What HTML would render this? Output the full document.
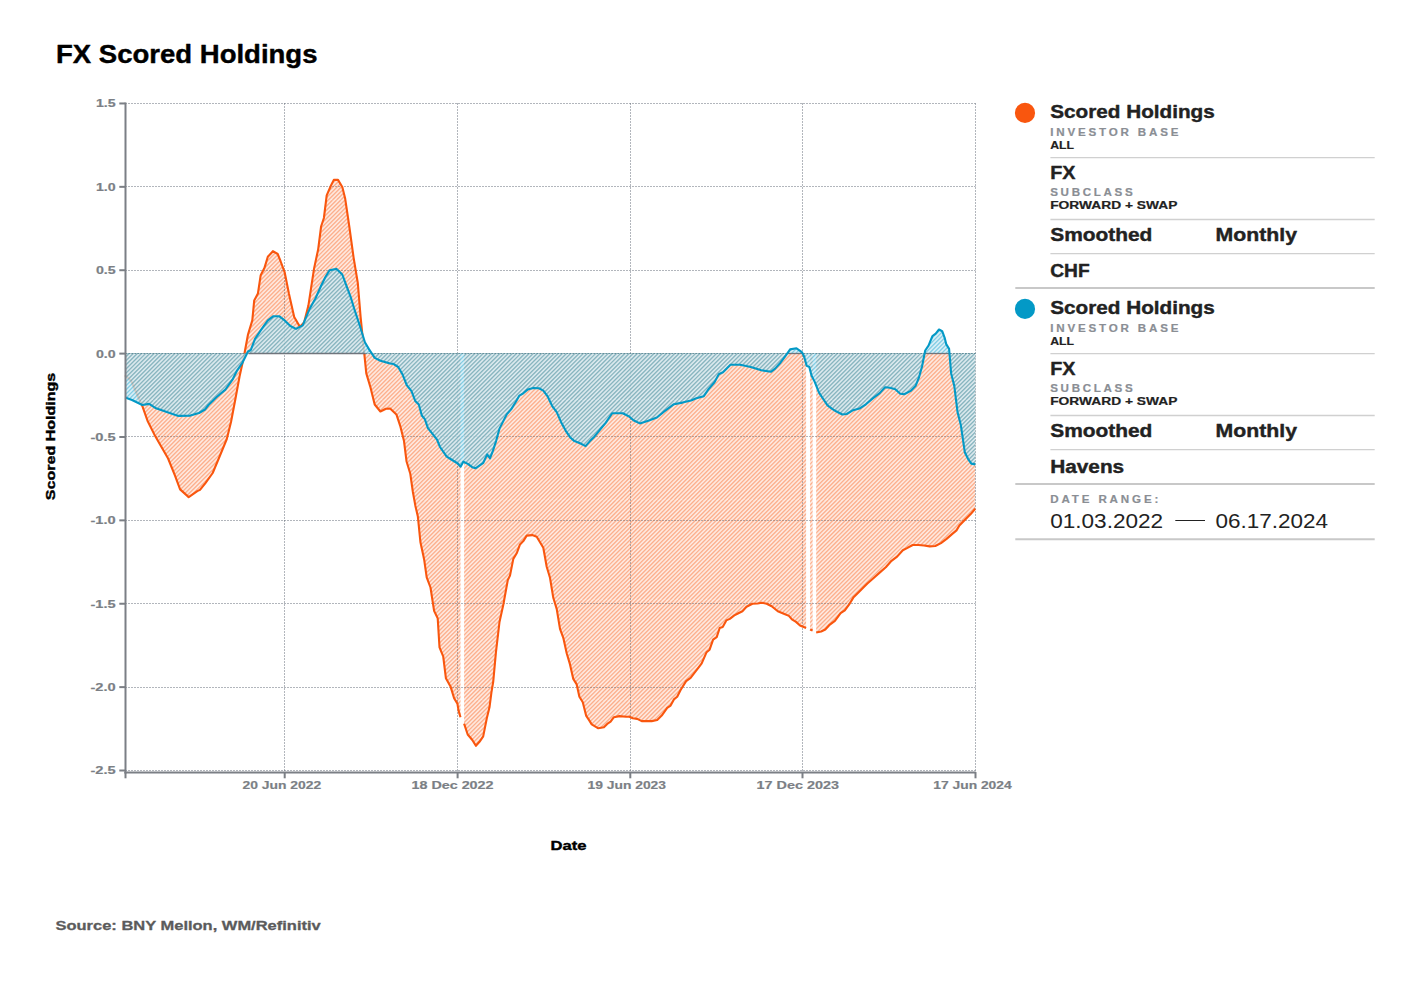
<!DOCTYPE html><html><head><meta charset="utf-8"><style>html,body{margin:0;padding:0;background:#fff;width:1406px;height:990px;overflow:hidden;}svg{display:block;font-family:"Liberation Sans",sans-serif;}</style></head><body>
<svg width="1406" height="990" viewBox="0 0 1406 990">
<defs>
<pattern id="ho" patternUnits="userSpaceOnUse" width="100" height="100" patternTransform="translate(-0.80,0)"><path d="M-100.000,100 L0.000,0 M-95.833,100 L4.167,0 M-91.667,100 L8.333,0 M-87.500,100 L12.500,0 M-83.333,100 L16.667,0 M-79.167,100 L20.833,0 M-75.000,100 L25.000,0 M-70.833,100 L29.167,0 M-66.667,100 L33.333,0 M-62.500,100 L37.500,0 M-58.333,100 L41.667,0 M-54.167,100 L45.833,0 M-50.000,100 L50.000,0 M-45.833,100 L54.167,0 M-41.667,100 L58.333,0 M-37.500,100 L62.500,0 M-33.333,100 L66.667,0 M-29.167,100 L70.833,0 M-25.000,100 L75.000,0 M-20.833,100 L79.167,0 M-16.667,100 L83.333,0 M-12.500,100 L87.500,0 M-8.333,100 L91.667,0 M-4.167,100 L95.833,0 M0.000,100 L100.000,0 M4.167,100 L104.167,0 M8.333,100 L108.333,0 M12.500,100 L112.500,0 M16.667,100 L116.667,0 M20.833,100 L120.833,0 M25.000,100 L125.000,0 M29.167,100 L129.167,0 M33.333,100 L133.333,0 M37.500,100 L137.500,0 M41.667,100 L141.667,0 M45.833,100 L145.833,0 M50.000,100 L150.000,0 M54.167,100 L154.167,0 M58.333,100 L158.333,0 M62.500,100 L162.500,0 M66.667,100 L166.667,0 M70.833,100 L170.833,0 M75.000,100 L175.000,0 M79.167,100 L179.167,0 M83.333,100 L183.333,0 M87.500,100 L187.500,0 M91.667,100 L191.667,0 M95.833,100 L195.833,0 M100.000,100 L200.000,0" stroke="#f9560e" stroke-opacity="0.220" stroke-width="1.20" fill="none"/></pattern>
<pattern id="ho1" patternUnits="userSpaceOnUse" width="100" height="100" patternTransform="translate(-0.80,0)"><path d="M-100.000,100 L0.000,0 M-95.833,100 L4.167,0 M-91.667,100 L8.333,0 M-87.500,100 L12.500,0 M-83.333,100 L16.667,0 M-79.167,100 L20.833,0 M-75.000,100 L25.000,0 M-70.833,100 L29.167,0 M-66.667,100 L33.333,0 M-62.500,100 L37.500,0 M-58.333,100 L41.667,0 M-54.167,100 L45.833,0 M-50.000,100 L50.000,0 M-45.833,100 L54.167,0 M-41.667,100 L58.333,0 M-37.500,100 L62.500,0 M-33.333,100 L66.667,0 M-29.167,100 L70.833,0 M-25.000,100 L75.000,0 M-20.833,100 L79.167,0 M-16.667,100 L83.333,0 M-12.500,100 L87.500,0 M-8.333,100 L91.667,0 M-4.167,100 L95.833,0 M0.000,100 L100.000,0 M4.167,100 L104.167,0 M8.333,100 L108.333,0 M12.500,100 L112.500,0 M16.667,100 L116.667,0 M20.833,100 L120.833,0 M25.000,100 L125.000,0 M29.167,100 L129.167,0 M33.333,100 L133.333,0 M37.500,100 L137.500,0 M41.667,100 L141.667,0 M45.833,100 L145.833,0 M50.000,100 L150.000,0 M54.167,100 L154.167,0 M58.333,100 L158.333,0 M62.500,100 L162.500,0 M66.667,100 L166.667,0 M70.833,100 L170.833,0 M75.000,100 L175.000,0 M79.167,100 L179.167,0 M83.333,100 L183.333,0 M87.500,100 L187.500,0 M91.667,100 L191.667,0 M95.833,100 L195.833,0 M100.000,100 L200.000,0" stroke="#f9560e" stroke-opacity="0.300" stroke-width="1.20" fill="none"/></pattern>
<pattern id="hb" patternUnits="userSpaceOnUse" width="100" height="100" patternTransform="translate(-0.80,0)"><path d="M-100.000,100 L0.000,0 M-95.833,100 L4.167,0 M-91.667,100 L8.333,0 M-87.500,100 L12.500,0 M-83.333,100 L16.667,0 M-79.167,100 L20.833,0 M-75.000,100 L25.000,0 M-70.833,100 L29.167,0 M-66.667,100 L33.333,0 M-62.500,100 L37.500,0 M-58.333,100 L41.667,0 M-54.167,100 L45.833,0 M-50.000,100 L50.000,0 M-45.833,100 L54.167,0 M-41.667,100 L58.333,0 M-37.500,100 L62.500,0 M-33.333,100 L66.667,0 M-29.167,100 L70.833,0 M-25.000,100 L75.000,0 M-20.833,100 L79.167,0 M-16.667,100 L83.333,0 M-12.500,100 L87.500,0 M-8.333,100 L91.667,0 M-4.167,100 L95.833,0 M0.000,100 L100.000,0 M4.167,100 L104.167,0 M8.333,100 L108.333,0 M12.500,100 L112.500,0 M16.667,100 L116.667,0 M20.833,100 L120.833,0 M25.000,100 L125.000,0 M29.167,100 L129.167,0 M33.333,100 L133.333,0 M37.500,100 L137.500,0 M41.667,100 L141.667,0 M45.833,100 L145.833,0 M50.000,100 L150.000,0 M54.167,100 L154.167,0 M58.333,100 L158.333,0 M62.500,100 L162.500,0 M66.667,100 L166.667,0 M70.833,100 L170.833,0 M75.000,100 L175.000,0 M79.167,100 L179.167,0 M83.333,100 L183.333,0 M87.500,100 L187.500,0 M91.667,100 L191.667,0 M95.833,100 L195.833,0 M100.000,100 L200.000,0" stroke="#0399c6" stroke-opacity="0.470" stroke-width="1.20" fill="none"/></pattern>
</defs>
<rect width="1406" height="990" fill="#fff"/>
<text x="56.0" y="63.1" font-size="25.00" font-weight="bold" fill="#000" text-anchor="start" textLength="261.5" lengthAdjust="spacingAndGlyphs" stroke="#000" stroke-width="0.40" stroke-linejoin="round" >FX Scored Holdings</text>
<path d="M125.2,353.5 L125.2,375.2 L131.2,381.2 L137.2,395.0 L142.3,406.0 L147.5,420.7 L154.3,434.4 L161.2,446.5 L168.1,458.5 L175.0,475.7 L180.1,489.4 L188.7,497.1 L197.3,491.1 L200.0,489.9 L205.6,482.8 L212.7,473.0 L219.8,456.0 L226.8,439.0 L231.0,422.0 L235.3,399.5 L239.5,376.9 L243.8,357.0 L248.0,334.5 L252.3,320.4 L254.2,300.6 L257.9,293.6 L260.7,275.2 L264.4,268.1 L267.8,256.8 L272.9,251.2 L277.7,254.0 L280.5,261.0 L284.7,272.4 L289.0,294.0 L294.2,316.9 L299.9,326.8 L304.1,322.5 L308.4,305.6 L314.0,268.9 L318.2,249.1 L321.1,226.5 L323.9,218.0 L326.7,195.4 L331.0,185.5 L333.8,179.9 L338.0,179.9 L342.3,187.0 L345.1,198.2 L349.3,226.5 L353.6,257.6 L357.8,283.0 L360.6,316.9 L364.0,350.8 L366.3,373.4 L370.5,387.5 L374.7,404.5 L380.4,411.5 L386.0,408.7 L390.1,408.6 L396.4,414.4 L400.2,425.8 L404.0,441.0 L406.5,461.2 L410.3,473.8 L412.8,491.5 L415.3,505.4 L417.9,516.8 L420.4,542.0 L424.2,559.8 L426.7,577.4 L430.5,587.5 L434.1,610.9 L437.7,618.2 L439.5,647.3 L443.2,656.4 L445.9,678.2 L450.5,686.4 L454.1,698.2 L457.4,703.6 L458.6,710.9 L460.5,717.3 L460.5,353.5 Z" fill="#f9560e" fill-opacity="0.115" stroke="none"/>
<path d="M464.1,353.5 L464.1,723.6 L467.7,734.5 L472.3,740.0 L475.9,745.8 L479.5,741.8 L483.2,736.4 L486.8,718.2 L489.5,707.3 L491.4,692.7 L493.2,681.8 L495.9,652.7 L499.5,622.0 L503.3,604.7 L507.8,580.0 L510.0,575.6 L513.3,558.9 L516.7,553.3 L520.0,544.4 L523.3,541.1 L526.7,535.6 L532.2,535.1 L536.7,536.7 L540.0,542.2 L543.3,547.8 L546.7,566.7 L550.0,577.8 L553.3,597.8 L556.7,608.9 L560.0,628.9 L563.3,637.8 L566.7,653.3 L570.0,664.4 L573.3,678.9 L576.7,684.4 L579.4,696.7 L582.8,702.2 L586.1,715.6 L589.4,720.6 L591.7,724.4 L598.3,728.3 L603.9,727.2 L607.2,723.9 L610.6,721.7 L613.9,717.2 L619.4,716.1 L626.1,716.7 L629.4,716.7 L632.8,718.3 L637.2,718.9 L641.7,721.1 L651.7,721.1 L657.2,720.0 L661.7,715.6 L667.2,707.8 L670.6,705.6 L673.9,699.4 L677.2,696.7 L680.6,690.0 L686.1,681.1 L690.6,677.8 L695.0,672.2 L698.3,667.8 L701.7,663.3 L706.6,652.2 L709.6,649.7 L713.1,639.6 L716.7,637.1 L719.7,628.0 L722.7,627.0 L726.3,620.4 L729.8,618.9 L734.3,615.4 L738.4,613.3 L742.4,611.3 L746.5,606.8 L752.5,603.7 L757.6,603.5 L761.6,602.7 L766.7,603.7 L771.7,606.3 L777.8,611.3 L783.8,613.8 L788.9,615.9 L791.9,619.4 L796.0,621.9 L800.0,625.5 L806.1,628.0 L806.1,353.5 Z" fill="#f9560e" fill-opacity="0.115" stroke="none"/>
<path d="M810.1,353.5 L810.1,629.5 L812.6,630.5 L812.6,353.5 Z" fill="#f9560e" fill-opacity="0.115" stroke="none"/>
<path d="M816.2,353.5 L816.2,632.5 L821.2,631.5 L825.3,629.5 L829.2,625.2 L834.9,620.9 L840.6,613.2 L844.8,610.3 L849.0,604.7 L853.3,597.6 L858.9,591.9 L864.6,586.3 L867.4,583.5 L873.1,578.5 L880.2,572.1 L885.8,567.2 L891.5,560.8 L897.1,556.6 L902.8,550.2 L907.0,548.1 L912.7,545.0 L918.4,545.0 L924.0,545.5 L929.7,546.4 L935.3,546.0 L941.0,543.1 L946.6,538.9 L952.3,533.9 L956.5,530.4 L959.4,525.5 L965.0,519.8 L970.7,514.1 L975.2,508.8 L975.2,353.5 Z" fill="#f9560e" fill-opacity="0.115" stroke="none"/>
<path d="M125.2,353.5 L125.2,375.2 L131.2,381.2 L137.2,395.0 L142.3,406.0 L147.5,420.7 L154.3,434.4 L161.2,446.5 L168.1,458.5 L175.0,475.7 L180.1,489.4 L188.7,497.1 L197.3,491.1 L200.0,489.9 L205.6,482.8 L212.7,473.0 L219.8,456.0 L226.8,439.0 L231.0,422.0 L235.3,399.5 L239.5,376.9 L243.8,357.0 L248.0,334.5 L252.3,320.4 L254.2,300.6 L257.9,293.6 L260.7,275.2 L264.4,268.1 L267.8,256.8 L272.9,251.2 L277.7,254.0 L280.5,261.0 L284.7,272.4 L289.0,294.0 L294.2,316.9 L299.9,326.8 L304.1,322.5 L308.4,305.6 L314.0,268.9 L318.2,249.1 L321.1,226.5 L323.9,218.0 L326.7,195.4 L331.0,185.5 L333.8,179.9 L338.0,179.9 L342.3,187.0 L345.1,198.2 L349.3,226.5 L353.6,257.6 L357.8,283.0 L360.6,316.9 L364.0,350.8 L366.3,373.4 L370.5,387.5 L374.7,404.5 L380.4,411.5 L386.0,408.7 L390.1,408.6 L396.4,414.4 L400.2,425.8 L404.0,441.0 L406.5,461.2 L410.3,473.8 L412.8,491.5 L415.3,505.4 L417.9,516.8 L420.4,542.0 L424.2,559.8 L426.7,577.4 L430.5,587.5 L434.1,610.9 L437.7,618.2 L439.5,647.3 L443.2,656.4 L445.9,678.2 L450.5,686.4 L454.1,698.2 L457.4,703.6 L458.6,710.9 L460.5,717.3 L460.5,353.5 Z" fill="url(#ho1)" stroke="none"/>
<path d="M464.1,353.5 L464.1,723.6 L467.7,734.5 L472.3,740.0 L475.9,745.8 L479.5,741.8 L483.2,736.4 L486.8,718.2 L489.5,707.3 L491.4,692.7 L493.2,681.8 L495.9,652.7 L499.5,622.0 L503.3,604.7 L507.8,580.0 L510.0,575.6 L513.3,558.9 L516.7,553.3 L520.0,544.4 L523.3,541.1 L526.7,535.6 L532.2,535.1 L536.7,536.7 L540.0,542.2 L543.3,547.8 L546.7,566.7 L550.0,577.8 L553.3,597.8 L556.7,608.9 L560.0,628.9 L563.3,637.8 L566.7,653.3 L570.0,664.4 L573.3,678.9 L576.7,684.4 L579.4,696.7 L582.8,702.2 L586.1,715.6 L589.4,720.6 L591.7,724.4 L598.3,728.3 L603.9,727.2 L607.2,723.9 L610.6,721.7 L613.9,717.2 L619.4,716.1 L626.1,716.7 L629.4,716.7 L632.8,718.3 L637.2,718.9 L641.7,721.1 L651.7,721.1 L657.2,720.0 L661.7,715.6 L667.2,707.8 L670.6,705.6 L673.9,699.4 L677.2,696.7 L680.6,690.0 L686.1,681.1 L690.6,677.8 L695.0,672.2 L698.3,667.8 L701.7,663.3 L706.6,652.2 L709.6,649.7 L713.1,639.6 L716.7,637.1 L719.7,628.0 L722.7,627.0 L726.3,620.4 L729.8,618.9 L734.3,615.4 L738.4,613.3 L742.4,611.3 L746.5,606.8 L752.5,603.7 L757.6,603.5 L761.6,602.7 L766.7,603.7 L771.7,606.3 L777.8,611.3 L783.8,613.8 L788.9,615.9 L791.9,619.4 L796.0,621.9 L800.0,625.5 L806.1,628.0 L806.1,353.5 Z" fill="url(#ho1)" stroke="none"/>
<path d="M810.1,353.5 L810.1,629.5 L812.6,630.5 L812.6,353.5 Z" fill="url(#ho1)" stroke="none"/>
<path d="M816.2,353.5 L816.2,632.5 L821.2,631.5 L825.3,629.5 L829.2,625.2 L834.9,620.9 L840.6,613.2 L844.8,610.3 L849.0,604.7 L853.3,597.6 L858.9,591.9 L864.6,586.3 L867.4,583.5 L873.1,578.5 L880.2,572.1 L885.8,567.2 L891.5,560.8 L897.1,556.6 L902.8,550.2 L907.0,548.1 L912.7,545.0 L918.4,545.0 L924.0,545.5 L929.7,546.4 L935.3,546.0 L941.0,543.1 L946.6,538.9 L952.3,533.9 L956.5,530.4 L959.4,525.5 L965.0,519.8 L970.7,514.1 L975.2,508.8 L975.2,353.5 Z" fill="url(#ho1)" stroke="none"/>
<line x1="125" y1="103.50" x2="975.5" y2="103.50" stroke="#5c6370" stroke-opacity="0.47" stroke-width="1" stroke-dasharray="2 1"/>
<line x1="125" y1="186.50" x2="975.5" y2="186.50" stroke="#5c6370" stroke-opacity="0.47" stroke-width="1" stroke-dasharray="2 1"/>
<line x1="125" y1="270.50" x2="975.5" y2="270.50" stroke="#5c6370" stroke-opacity="0.47" stroke-width="1" stroke-dasharray="2 1"/>
<line x1="125" y1="353.50" x2="975.5" y2="353.50" stroke="#5c6370" stroke-opacity="0.47" stroke-width="1" stroke-dasharray="2 1"/>
<line x1="125" y1="436.50" x2="975.5" y2="436.50" stroke="#5c6370" stroke-opacity="0.47" stroke-width="1" stroke-dasharray="2 1"/>
<line x1="125" y1="520.50" x2="975.5" y2="520.50" stroke="#5c6370" stroke-opacity="0.47" stroke-width="1" stroke-dasharray="2 1"/>
<line x1="125" y1="603.50" x2="975.5" y2="603.50" stroke="#5c6370" stroke-opacity="0.47" stroke-width="1" stroke-dasharray="2 1"/>
<line x1="125" y1="687.50" x2="975.5" y2="687.50" stroke="#5c6370" stroke-opacity="0.47" stroke-width="1" stroke-dasharray="2 1"/>
<line x1="125" y1="770.50" x2="975.5" y2="770.50" stroke="#5c6370" stroke-opacity="0.47" stroke-width="1" stroke-dasharray="2 1"/>
<line x1="284.50" y1="103" x2="284.50" y2="771" stroke="#5c6370" stroke-opacity="0.47" stroke-width="1" stroke-dasharray="2 1"/>
<line x1="457.50" y1="103" x2="457.50" y2="771" stroke="#5c6370" stroke-opacity="0.47" stroke-width="1" stroke-dasharray="2 1"/>
<line x1="630.50" y1="103" x2="630.50" y2="771" stroke="#5c6370" stroke-opacity="0.47" stroke-width="1" stroke-dasharray="2 1"/>
<line x1="802.50" y1="103" x2="802.50" y2="771" stroke="#5c6370" stroke-opacity="0.47" stroke-width="1" stroke-dasharray="2 1"/>
<line x1="975.50" y1="103" x2="975.50" y2="771" stroke="#5c6370" stroke-opacity="0.47" stroke-width="1" stroke-dasharray="2 1"/>
<path d="M125.2,375.2 L131.2,381.2 L137.2,395.0 L142.3,406.0 L147.5,420.7 L154.3,434.4 L161.2,446.5 L168.1,458.5 L175.0,475.7 L180.1,489.4 L188.7,497.1 L197.3,491.1 L200.0,489.9 L205.6,482.8 L212.7,473.0 L219.8,456.0 L226.8,439.0 L231.0,422.0 L235.3,399.5 L239.5,376.9 L243.8,357.0 L248.0,334.5 L252.3,320.4 L254.2,300.6 L257.9,293.6 L260.7,275.2 L264.4,268.1 L267.8,256.8 L272.9,251.2 L277.7,254.0 L280.5,261.0 L284.7,272.4 L289.0,294.0 L294.2,316.9 L299.9,326.8 L304.1,322.5 L308.4,305.6 L314.0,268.9 L318.2,249.1 L321.1,226.5 L323.9,218.0 L326.7,195.4 L331.0,185.5 L333.8,179.9 L338.0,179.9 L342.3,187.0 L345.1,198.2 L349.3,226.5 L353.6,257.6 L357.8,283.0 L360.6,316.9 L364.0,350.8 L366.3,373.4 L370.5,387.5 L374.7,404.5 L380.4,411.5 L386.0,408.7 L390.1,408.6 L396.4,414.4 L400.2,425.8 L404.0,441.0 L406.5,461.2 L410.3,473.8 L412.8,491.5 L415.3,505.4 L417.9,516.8 L420.4,542.0 L424.2,559.8 L426.7,577.4 L430.5,587.5 L434.1,610.9 L437.7,618.2 L439.5,647.3 L443.2,656.4 L445.9,678.2 L450.5,686.4 L454.1,698.2 L457.4,703.6 L458.6,710.9 L460.5,717.3" fill="none" stroke="#f9560e" stroke-width="2.10" stroke-linejoin="round" stroke-linecap="butt"/>
<path d="M464.1,723.6 L467.7,734.5 L472.3,740.0 L475.9,745.8 L479.5,741.8 L483.2,736.4 L486.8,718.2 L489.5,707.3 L491.4,692.7 L493.2,681.8 L495.9,652.7 L499.5,622.0 L503.3,604.7 L507.8,580.0 L510.0,575.6 L513.3,558.9 L516.7,553.3 L520.0,544.4 L523.3,541.1 L526.7,535.6 L532.2,535.1 L536.7,536.7 L540.0,542.2 L543.3,547.8 L546.7,566.7 L550.0,577.8 L553.3,597.8 L556.7,608.9 L560.0,628.9 L563.3,637.8 L566.7,653.3 L570.0,664.4 L573.3,678.9 L576.7,684.4 L579.4,696.7 L582.8,702.2 L586.1,715.6 L589.4,720.6 L591.7,724.4 L598.3,728.3 L603.9,727.2 L607.2,723.9 L610.6,721.7 L613.9,717.2 L619.4,716.1 L626.1,716.7 L629.4,716.7 L632.8,718.3 L637.2,718.9 L641.7,721.1 L651.7,721.1 L657.2,720.0 L661.7,715.6 L667.2,707.8 L670.6,705.6 L673.9,699.4 L677.2,696.7 L680.6,690.0 L686.1,681.1 L690.6,677.8 L695.0,672.2 L698.3,667.8 L701.7,663.3 L706.6,652.2 L709.6,649.7 L713.1,639.6 L716.7,637.1 L719.7,628.0 L722.7,627.0 L726.3,620.4 L729.8,618.9 L734.3,615.4 L738.4,613.3 L742.4,611.3 L746.5,606.8 L752.5,603.7 L757.6,603.5 L761.6,602.7 L766.7,603.7 L771.7,606.3 L777.8,611.3 L783.8,613.8 L788.9,615.9 L791.9,619.4 L796.0,621.9 L800.0,625.5 L806.1,628.0" fill="none" stroke="#f9560e" stroke-width="2.10" stroke-linejoin="round" stroke-linecap="butt"/>
<path d="M810.1,629.5 L812.6,630.5" fill="none" stroke="#f9560e" stroke-width="2.10" stroke-linejoin="round" stroke-linecap="butt"/>
<path d="M816.2,632.5 L821.2,631.5 L825.3,629.5 L829.2,625.2 L834.9,620.9 L840.6,613.2 L844.8,610.3 L849.0,604.7 L853.3,597.6 L858.9,591.9 L864.6,586.3 L867.4,583.5 L873.1,578.5 L880.2,572.1 L885.8,567.2 L891.5,560.8 L897.1,556.6 L902.8,550.2 L907.0,548.1 L912.7,545.0 L918.4,545.0 L924.0,545.5 L929.7,546.4 L935.3,546.0 L941.0,543.1 L946.6,538.9 L952.3,533.9 L956.5,530.4 L959.4,525.5 L965.0,519.8 L970.7,514.1 L975.2,508.8" fill="none" stroke="#f9560e" stroke-width="2.10" stroke-linejoin="round" stroke-linecap="butt"/>
<path d="M125.2,353.5 L125.2,397.5 L132.0,400.0 L142.3,405.0 L149.2,403.9 L156.0,408.3 L164.6,411.3 L178.4,415.9 L190.4,415.6 L199.0,413.0 L205.0,409.5 L208.5,405.0 L217.0,396.7 L225.4,389.6 L232.5,379.7 L236.7,371.2 L242.4,362.8 L248.0,351.5 L250.8,350.0 L255.0,338.8 L260.7,330.3 L267.8,320.4 L273.4,316.2 L279.1,316.2 L284.7,320.4 L290.4,326.0 L296.0,328.9 L302.7,325.4 L309.8,308.4 L315.4,298.5 L321.1,285.8 L325.3,277.3 L329.5,270.3 L336.6,268.9 L342.3,274.5 L346.5,285.8 L350.7,297.1 L355.0,311.2 L360.6,328.2 L364.9,342.3 L369.1,349.4 L374.7,357.9 L380.4,360.7 L390.0,363.5 L393.3,363.9 L398.2,367.0 L402.4,374.2 L406.7,385.2 L411.5,391.2 L415.2,400.9 L418.8,404.5 L421.8,415.5 L424.8,419.1 L427.9,428.2 L433.3,434.8 L437.0,439.7 L440.0,447.0 L446.7,456.7 L450.5,459.0 L457.8,463.5 L460.6,466.7 L463.3,461.7 L467.8,463.9 L472.2,467.2 L475.6,468.3 L479.4,465.6 L483.3,462.8 L487.2,454.4 L490.0,458.3 L492.8,451.1 L496.1,441.1 L499.4,428.9 L503.3,421.1 L506.7,414.4 L511.1,409.4 L515.6,402.2 L519.4,395.6 L523.3,393.3 L527.8,389.4 L533.3,388.0 L538.9,388.3 L543.3,390.6 L547.8,396.7 L552.2,406.1 L556.7,412.2 L561.1,422.2 L565.6,430.6 L570.0,437.2 L574.4,441.1 L580.0,443.3 L585.6,446.1 L590.0,441.1 L594.4,436.7 L600.3,429.3 L605.7,422.9 L612.1,413.3 L622.7,413.3 L629.1,416.5 L633.4,420.2 L639.8,423.4 L648.3,420.7 L656.9,417.5 L663.3,412.2 L669.7,407.4 L674.0,404.2 L682.5,402.6 L691.0,400.5 L696.4,398.3 L703.8,396.2 L708.1,389.8 L714.5,382.3 L718.8,374.3 L723.0,372.2 L730.5,364.7 L740.1,364.7 L750.7,367.0 L761.3,370.2 L770.9,371.8 L775.2,368.6 L780.5,362.7 L785.9,355.3 L790.1,349.4 L796.5,348.3 L801.9,352.1 L804.0,356.3 L806.7,365.9 L809.3,367.0 L811.5,375.5 L814.7,381.9 L819.0,392.6 L823.2,399.0 L827.5,405.4 L831.8,408.6 L836.0,411.3 L842.4,414.5 L846.7,414.0 L853.1,410.2 L859.5,408.6 L865.9,404.3 L873.4,397.9 L879.8,393.1 L885.1,387.3 L889.7,387.7 L895.3,389.3 L900.2,393.7 L904.2,394.2 L910.7,390.9 L915.5,386.1 L918.8,378.0 L922.0,366.7 L925.2,350.5 L928.5,345.7 L932.5,336.0 L935.7,333.6 L939.0,329.5 L942.2,331.2 L944.6,337.6 L946.2,344.1 L949.1,348.9 L951.1,373.2 L954.3,386.1 L957.5,411.9 L960.8,424.9 L964.8,452.3 L968.0,458.8 L971.3,463.6 L975.3,464.4 L975.3,353.5 Z" fill="#d6eef6" fill-opacity="0.800" stroke="none"/>
<path d="M125.2,353.5 L125.2,375.2 L131.2,381.2 L137.2,395.0 L142.3,406.0 L147.5,420.7 L154.3,434.4 L161.2,446.5 L168.1,458.5 L175.0,475.7 L180.1,489.4 L188.7,497.1 L197.3,491.1 L200.0,489.9 L205.6,482.8 L212.7,473.0 L219.8,456.0 L226.8,439.0 L231.0,422.0 L235.3,399.5 L239.5,376.9 L243.8,357.0 L248.0,334.5 L252.3,320.4 L254.2,300.6 L257.9,293.6 L260.7,275.2 L264.4,268.1 L267.8,256.8 L272.9,251.2 L277.7,254.0 L280.5,261.0 L284.7,272.4 L289.0,294.0 L294.2,316.9 L299.9,326.8 L304.1,322.5 L308.4,305.6 L314.0,268.9 L318.2,249.1 L321.1,226.5 L323.9,218.0 L326.7,195.4 L331.0,185.5 L333.8,179.9 L338.0,179.9 L342.3,187.0 L345.1,198.2 L349.3,226.5 L353.6,257.6 L357.8,283.0 L360.6,316.9 L364.0,350.8 L366.3,373.4 L370.5,387.5 L374.7,404.5 L380.4,411.5 L386.0,408.7 L390.1,408.6 L396.4,414.4 L400.2,425.8 L404.0,441.0 L406.5,461.2 L410.3,473.8 L412.8,491.5 L415.3,505.4 L417.9,516.8 L420.4,542.0 L424.2,559.8 L426.7,577.4 L430.5,587.5 L434.1,610.9 L437.7,618.2 L439.5,647.3 L443.2,656.4 L445.9,678.2 L450.5,686.4 L454.1,698.2 L457.4,703.6 L458.6,710.9 L460.5,717.3 L460.5,353.5 Z" fill="url(#ho)" stroke="none"/>
<path d="M464.1,353.5 L464.1,723.6 L467.7,734.5 L472.3,740.0 L475.9,745.8 L479.5,741.8 L483.2,736.4 L486.8,718.2 L489.5,707.3 L491.4,692.7 L493.2,681.8 L495.9,652.7 L499.5,622.0 L503.3,604.7 L507.8,580.0 L510.0,575.6 L513.3,558.9 L516.7,553.3 L520.0,544.4 L523.3,541.1 L526.7,535.6 L532.2,535.1 L536.7,536.7 L540.0,542.2 L543.3,547.8 L546.7,566.7 L550.0,577.8 L553.3,597.8 L556.7,608.9 L560.0,628.9 L563.3,637.8 L566.7,653.3 L570.0,664.4 L573.3,678.9 L576.7,684.4 L579.4,696.7 L582.8,702.2 L586.1,715.6 L589.4,720.6 L591.7,724.4 L598.3,728.3 L603.9,727.2 L607.2,723.9 L610.6,721.7 L613.9,717.2 L619.4,716.1 L626.1,716.7 L629.4,716.7 L632.8,718.3 L637.2,718.9 L641.7,721.1 L651.7,721.1 L657.2,720.0 L661.7,715.6 L667.2,707.8 L670.6,705.6 L673.9,699.4 L677.2,696.7 L680.6,690.0 L686.1,681.1 L690.6,677.8 L695.0,672.2 L698.3,667.8 L701.7,663.3 L706.6,652.2 L709.6,649.7 L713.1,639.6 L716.7,637.1 L719.7,628.0 L722.7,627.0 L726.3,620.4 L729.8,618.9 L734.3,615.4 L738.4,613.3 L742.4,611.3 L746.5,606.8 L752.5,603.7 L757.6,603.5 L761.6,602.7 L766.7,603.7 L771.7,606.3 L777.8,611.3 L783.8,613.8 L788.9,615.9 L791.9,619.4 L796.0,621.9 L800.0,625.5 L806.1,628.0 L806.1,353.5 Z" fill="url(#ho)" stroke="none"/>
<path d="M810.1,353.5 L810.1,629.5 L812.6,630.5 L812.6,353.5 Z" fill="url(#ho)" stroke="none"/>
<path d="M816.2,353.5 L816.2,632.5 L821.2,631.5 L825.3,629.5 L829.2,625.2 L834.9,620.9 L840.6,613.2 L844.8,610.3 L849.0,604.7 L853.3,597.6 L858.9,591.9 L864.6,586.3 L867.4,583.5 L873.1,578.5 L880.2,572.1 L885.8,567.2 L891.5,560.8 L897.1,556.6 L902.8,550.2 L907.0,548.1 L912.7,545.0 L918.4,545.0 L924.0,545.5 L929.7,546.4 L935.3,546.0 L941.0,543.1 L946.6,538.9 L952.3,533.9 L956.5,530.4 L959.4,525.5 L965.0,519.8 L970.7,514.1 L975.2,508.8 L975.2,353.5 Z" fill="url(#ho)" stroke="none"/>
<path d="M125.2,353.5 L125.2,397.5 L132.0,400.0 L142.3,405.0 L149.2,403.9 L156.0,408.3 L164.6,411.3 L178.4,415.9 L190.4,415.6 L199.0,413.0 L205.0,409.5 L208.5,405.0 L217.0,396.7 L225.4,389.6 L232.5,379.7 L236.7,371.2 L242.4,362.8 L248.0,351.5 L250.8,350.0 L255.0,338.8 L260.7,330.3 L267.8,320.4 L273.4,316.2 L279.1,316.2 L284.7,320.4 L290.4,326.0 L296.0,328.9 L302.7,325.4 L309.8,308.4 L315.4,298.5 L321.1,285.8 L325.3,277.3 L329.5,270.3 L336.6,268.9 L342.3,274.5 L346.5,285.8 L350.7,297.1 L355.0,311.2 L360.6,328.2 L364.9,342.3 L369.1,349.4 L374.7,357.9 L380.4,360.7 L390.0,363.5 L393.3,363.9 L398.2,367.0 L402.4,374.2 L406.7,385.2 L411.5,391.2 L415.2,400.9 L418.8,404.5 L421.8,415.5 L424.8,419.1 L427.9,428.2 L433.3,434.8 L437.0,439.7 L440.0,447.0 L446.7,456.7 L450.5,459.0 L457.8,463.5 L460.6,466.7 L463.3,461.7 L467.8,463.9 L472.2,467.2 L475.6,468.3 L479.4,465.6 L483.3,462.8 L487.2,454.4 L490.0,458.3 L492.8,451.1 L496.1,441.1 L499.4,428.9 L503.3,421.1 L506.7,414.4 L511.1,409.4 L515.6,402.2 L519.4,395.6 L523.3,393.3 L527.8,389.4 L533.3,388.0 L538.9,388.3 L543.3,390.6 L547.8,396.7 L552.2,406.1 L556.7,412.2 L561.1,422.2 L565.6,430.6 L570.0,437.2 L574.4,441.1 L580.0,443.3 L585.6,446.1 L590.0,441.1 L594.4,436.7 L600.3,429.3 L605.7,422.9 L612.1,413.3 L622.7,413.3 L629.1,416.5 L633.4,420.2 L639.8,423.4 L648.3,420.7 L656.9,417.5 L663.3,412.2 L669.7,407.4 L674.0,404.2 L682.5,402.6 L691.0,400.5 L696.4,398.3 L703.8,396.2 L708.1,389.8 L714.5,382.3 L718.8,374.3 L723.0,372.2 L730.5,364.7 L740.1,364.7 L750.7,367.0 L761.3,370.2 L770.9,371.8 L775.2,368.6 L780.5,362.7 L785.9,355.3 L790.1,349.4 L796.5,348.3 L801.9,352.1 L804.0,356.3 L806.7,365.9 L809.3,367.0 L811.5,375.5 L814.7,381.9 L819.0,392.6 L823.2,399.0 L827.5,405.4 L831.8,408.6 L836.0,411.3 L842.4,414.5 L846.7,414.0 L853.1,410.2 L859.5,408.6 L865.9,404.3 L873.4,397.9 L879.8,393.1 L885.1,387.3 L889.7,387.7 L895.3,389.3 L900.2,393.7 L904.2,394.2 L910.7,390.9 L915.5,386.1 L918.8,378.0 L922.0,366.7 L925.2,350.5 L928.5,345.7 L932.5,336.0 L935.7,333.6 L939.0,329.5 L942.2,331.2 L944.6,337.6 L946.2,344.1 L949.1,348.9 L951.1,373.2 L954.3,386.1 L957.5,411.9 L960.8,424.9 L964.8,452.3 L968.0,458.8 L971.3,463.6 L975.3,464.4 L975.3,353.5 Z" fill="url(#hb)" stroke="none"/>
<line x1="248.5" y1="353.5" x2="365.5" y2="353.5" stroke="#6f757c" stroke-width="1.3"/>
<line x1="788.0" y1="353.5" x2="803.5" y2="353.5" stroke="#6f757c" stroke-width="1.3"/>
<line x1="924.5" y1="353.5" x2="949.8" y2="353.5" stroke="#6f757c" stroke-width="1.3"/>
<line x1="125.5" y1="353.5" x2="248.5" y2="353.5" stroke="#3f7f90" stroke-width="1.1" stroke-dasharray="2 1" stroke-opacity="0.7"/>
<line x1="365.5" y1="353.5" x2="788.0" y2="353.5" stroke="#3f7f90" stroke-width="1.1" stroke-dasharray="2 1" stroke-opacity="0.7"/>
<line x1="803.5" y1="353.5" x2="924.5" y2="353.5" stroke="#3f7f90" stroke-width="1.1" stroke-dasharray="2 1" stroke-opacity="0.7"/>
<line x1="949.8" y1="353.5" x2="975.5" y2="353.5" stroke="#3f7f90" stroke-width="1.1" stroke-dasharray="2 1" stroke-opacity="0.7"/>
<path d="M125.2,397.5 L132.0,400.0 L142.3,405.0 L149.2,403.9 L156.0,408.3 L164.6,411.3 L178.4,415.9 L190.4,415.6 L199.0,413.0 L205.0,409.5 L208.5,405.0 L217.0,396.7 L225.4,389.6 L232.5,379.7 L236.7,371.2 L242.4,362.8 L248.0,351.5 L250.8,350.0 L255.0,338.8 L260.7,330.3 L267.8,320.4 L273.4,316.2 L279.1,316.2 L284.7,320.4 L290.4,326.0 L296.0,328.9 L302.7,325.4 L309.8,308.4 L315.4,298.5 L321.1,285.8 L325.3,277.3 L329.5,270.3 L336.6,268.9 L342.3,274.5 L346.5,285.8 L350.7,297.1 L355.0,311.2 L360.6,328.2 L364.9,342.3 L369.1,349.4 L374.7,357.9 L380.4,360.7 L390.0,363.5 L393.3,363.9 L398.2,367.0 L402.4,374.2 L406.7,385.2 L411.5,391.2 L415.2,400.9 L418.8,404.5 L421.8,415.5 L424.8,419.1 L427.9,428.2 L433.3,434.8 L437.0,439.7 L440.0,447.0 L446.7,456.7 L450.5,459.0 L457.8,463.5 L460.6,466.7 L463.3,461.7 L467.8,463.9 L472.2,467.2 L475.6,468.3 L479.4,465.6 L483.3,462.8 L487.2,454.4 L490.0,458.3 L492.8,451.1 L496.1,441.1 L499.4,428.9 L503.3,421.1 L506.7,414.4 L511.1,409.4 L515.6,402.2 L519.4,395.6 L523.3,393.3 L527.8,389.4 L533.3,388.0 L538.9,388.3 L543.3,390.6 L547.8,396.7 L552.2,406.1 L556.7,412.2 L561.1,422.2 L565.6,430.6 L570.0,437.2 L574.4,441.1 L580.0,443.3 L585.6,446.1 L590.0,441.1 L594.4,436.7 L600.3,429.3 L605.7,422.9 L612.1,413.3 L622.7,413.3 L629.1,416.5 L633.4,420.2 L639.8,423.4 L648.3,420.7 L656.9,417.5 L663.3,412.2 L669.7,407.4 L674.0,404.2 L682.5,402.6 L691.0,400.5 L696.4,398.3 L703.8,396.2 L708.1,389.8 L714.5,382.3 L718.8,374.3 L723.0,372.2 L730.5,364.7 L740.1,364.7 L750.7,367.0 L761.3,370.2 L770.9,371.8 L775.2,368.6 L780.5,362.7 L785.9,355.3 L790.1,349.4 L796.5,348.3 L801.9,352.1 L804.0,356.3 L806.7,365.9 L809.3,367.0 L811.5,375.5 L814.7,381.9 L819.0,392.6 L823.2,399.0 L827.5,405.4 L831.8,408.6 L836.0,411.3 L842.4,414.5 L846.7,414.0 L853.1,410.2 L859.5,408.6 L865.9,404.3 L873.4,397.9 L879.8,393.1 L885.1,387.3 L889.7,387.7 L895.3,389.3 L900.2,393.7 L904.2,394.2 L910.7,390.9 L915.5,386.1 L918.8,378.0 L922.0,366.7 L925.2,350.5 L928.5,345.7 L932.5,336.0 L935.7,333.6 L939.0,329.5 L942.2,331.2 L944.6,337.6 L946.2,344.1 L949.1,348.9 L951.1,373.2 L954.3,386.1 L957.5,411.9 L960.8,424.9 L964.8,452.3 L968.0,458.8 L971.3,463.6 L975.3,464.4" fill="none" stroke="#0399c6" stroke-width="2.10" stroke-linejoin="round" stroke-linecap="butt"/>
<line x1="125.5" y1="102.5" x2="125.5" y2="773.5" stroke="#7b7f85" stroke-width="2"/>
<line x1="124.5" y1="772.6" x2="975.8" y2="772.6" stroke="#7b7f85" stroke-width="2"/>
<line x1="119.3" y1="103.46" x2="125.5" y2="103.46" stroke="#7b7f85" stroke-width="2"/>
<text x="95.9" y="107.4" font-size="11.80" font-weight="bold" fill="#7b7f85" text-anchor="start" textLength="19.7" lengthAdjust="spacingAndGlyphs" stroke="#7b7f85" stroke-width="0.20" stroke-linejoin="round" >1.5</text>
<line x1="119.3" y1="186.84" x2="125.5" y2="186.84" stroke="#7b7f85" stroke-width="2"/>
<text x="95.9" y="190.7" font-size="11.80" font-weight="bold" fill="#7b7f85" text-anchor="start" textLength="19.7" lengthAdjust="spacingAndGlyphs" stroke="#7b7f85" stroke-width="0.20" stroke-linejoin="round" >1.0</text>
<line x1="119.3" y1="270.22" x2="125.5" y2="270.22" stroke="#7b7f85" stroke-width="2"/>
<text x="95.9" y="274.1" font-size="11.80" font-weight="bold" fill="#7b7f85" text-anchor="start" textLength="19.7" lengthAdjust="spacingAndGlyphs" stroke="#7b7f85" stroke-width="0.20" stroke-linejoin="round" >0.5</text>
<line x1="119.3" y1="353.60" x2="125.5" y2="353.60" stroke="#7b7f85" stroke-width="2"/>
<text x="95.9" y="357.5" font-size="11.80" font-weight="bold" fill="#7b7f85" text-anchor="start" textLength="19.7" lengthAdjust="spacingAndGlyphs" stroke="#7b7f85" stroke-width="0.20" stroke-linejoin="round" >0.0</text>
<line x1="119.3" y1="436.98" x2="125.5" y2="436.98" stroke="#7b7f85" stroke-width="2"/>
<text x="90.4" y="440.9" font-size="11.80" font-weight="bold" fill="#7b7f85" text-anchor="start" textLength="25.2" lengthAdjust="spacingAndGlyphs" stroke="#7b7f85" stroke-width="0.20" stroke-linejoin="round" >-0.5</text>
<line x1="119.3" y1="520.36" x2="125.5" y2="520.36" stroke="#7b7f85" stroke-width="2"/>
<text x="90.4" y="524.3" font-size="11.80" font-weight="bold" fill="#7b7f85" text-anchor="start" textLength="25.2" lengthAdjust="spacingAndGlyphs" stroke="#7b7f85" stroke-width="0.20" stroke-linejoin="round" >-1.0</text>
<line x1="119.3" y1="603.74" x2="125.5" y2="603.74" stroke="#7b7f85" stroke-width="2"/>
<text x="90.4" y="607.6" font-size="11.80" font-weight="bold" fill="#7b7f85" text-anchor="start" textLength="25.2" lengthAdjust="spacingAndGlyphs" stroke="#7b7f85" stroke-width="0.20" stroke-linejoin="round" >-1.5</text>
<line x1="119.3" y1="687.12" x2="125.5" y2="687.12" stroke="#7b7f85" stroke-width="2"/>
<text x="90.4" y="691.0" font-size="11.80" font-weight="bold" fill="#7b7f85" text-anchor="start" textLength="25.2" lengthAdjust="spacingAndGlyphs" stroke="#7b7f85" stroke-width="0.20" stroke-linejoin="round" >-2.0</text>
<line x1="119.3" y1="770.50" x2="125.5" y2="770.50" stroke="#7b7f85" stroke-width="2"/>
<text x="90.4" y="774.4" font-size="11.80" font-weight="bold" fill="#7b7f85" text-anchor="start" textLength="25.2" lengthAdjust="spacingAndGlyphs" stroke="#7b7f85" stroke-width="0.20" stroke-linejoin="round" >-2.5</text>
<line x1="284.70" y1="772" x2="284.70" y2="778.3" stroke="#7b7f85" stroke-width="2"/>
<text x="242.5" y="789.2" font-size="11.80" font-weight="bold" fill="#7b7f85" text-anchor="start" textLength="78.7" lengthAdjust="spacingAndGlyphs" stroke="#7b7f85" stroke-width="0.20" stroke-linejoin="round" >20 Jun 2022</text>
<line x1="457.60" y1="772" x2="457.60" y2="778.3" stroke="#7b7f85" stroke-width="2"/>
<text x="411.5" y="789.2" font-size="11.80" font-weight="bold" fill="#7b7f85" text-anchor="start" textLength="82.0" lengthAdjust="spacingAndGlyphs" stroke="#7b7f85" stroke-width="0.20" stroke-linejoin="round" >18 Dec 2022</text>
<line x1="630.30" y1="772" x2="630.30" y2="778.3" stroke="#7b7f85" stroke-width="2"/>
<text x="587.6" y="789.2" font-size="11.80" font-weight="bold" fill="#7b7f85" text-anchor="start" textLength="78.4" lengthAdjust="spacingAndGlyphs" stroke="#7b7f85" stroke-width="0.20" stroke-linejoin="round" >19 Jun 2023</text>
<line x1="802.50" y1="772" x2="802.50" y2="778.3" stroke="#7b7f85" stroke-width="2"/>
<text x="756.6" y="789.2" font-size="11.80" font-weight="bold" fill="#7b7f85" text-anchor="start" textLength="82.3" lengthAdjust="spacingAndGlyphs" stroke="#7b7f85" stroke-width="0.20" stroke-linejoin="round" >17 Dec 2023</text>
<line x1="975.50" y1="772" x2="975.50" y2="778.3" stroke="#7b7f85" stroke-width="2"/>
<text x="933.3" y="789.2" font-size="11.80" font-weight="bold" fill="#7b7f85" text-anchor="start" textLength="78.4" lengthAdjust="spacingAndGlyphs" stroke="#7b7f85" stroke-width="0.20" stroke-linejoin="round" >17 Jun 2024</text>
<line x1="125.5" y1="772" x2="125.5" y2="778.3" stroke="#7b7f85" stroke-width="2"/>
<text transform="translate(54.7,436.5) rotate(-90)" x="0" y="0" font-size="13.5" font-weight="bold" fill="#000" stroke="#000" stroke-width="0.4" text-anchor="middle" textLength="127.3" lengthAdjust="spacingAndGlyphs">Scored Holdings</text>
<text x="550.6" y="849.9" font-size="13.50" font-weight="bold" fill="#000" text-anchor="start" textLength="36.0" lengthAdjust="spacingAndGlyphs" stroke="#000" stroke-width="0.40" stroke-linejoin="round" >Date</text>
<text x="55.5" y="930.3" font-size="13.30" font-weight="bold" fill="#5b5b5b" text-anchor="start" textLength="265.2" lengthAdjust="spacingAndGlyphs" stroke="#5b5b5b" stroke-width="0.30" stroke-linejoin="round" >Source: BNY Mellon, WM/Refinitiv</text>
<circle cx="1025" cy="112.9" r="10.1" fill="#f9560e"/>
<text x="1050.2" y="118.2" font-size="18.80" font-weight="bold" fill="#222222" text-anchor="start" textLength="164.6" lengthAdjust="spacingAndGlyphs" stroke="#222222" stroke-width="0.40" stroke-linejoin="round" >Scored Holdings</text>
<text x="1050.2" y="136.0" font-size="11.60" font-weight="bold" fill="#8a8e94" text-anchor="start" textLength="128.3" lengthAdjust="spacing" stroke="#8a8e94" stroke-width="0.20" stroke-linejoin="round" >INVESTOR BASE</text>
<text x="1050.2" y="148.7" font-size="11.60" font-weight="bold" fill="#222222" text-anchor="start" textLength="23.9" lengthAdjust="spacingAndGlyphs" stroke="#222222" stroke-width="0.20" stroke-linejoin="round" >ALL</text>
<line x1="1050.4" y1="157.6" x2="1374.7" y2="157.6" stroke="#d0d0d0" stroke-width="1.3"/>
<text x="1050.2" y="178.7" font-size="18.80" font-weight="bold" fill="#222222" text-anchor="start" textLength="25.3" lengthAdjust="spacingAndGlyphs" stroke="#222222" stroke-width="0.40" stroke-linejoin="round" >FX</text>
<text x="1050.2" y="195.6" font-size="11.60" font-weight="bold" fill="#8a8e94" text-anchor="start" textLength="82.5" lengthAdjust="spacing" stroke="#8a8e94" stroke-width="0.20" stroke-linejoin="round" >SUBCLASS</text>
<text x="1050.2" y="208.8" font-size="11.60" font-weight="bold" fill="#222222" text-anchor="start" textLength="127.2" lengthAdjust="spacingAndGlyphs" stroke="#222222" stroke-width="0.20" stroke-linejoin="round" >FORWARD + SWAP</text>
<line x1="1050.4" y1="219.5" x2="1374.7" y2="219.5" stroke="#d0d0d0" stroke-width="1.3"/>
<text x="1050.2" y="240.7" font-size="18.80" font-weight="bold" fill="#222222" text-anchor="start" textLength="102.2" lengthAdjust="spacingAndGlyphs" stroke="#222222" stroke-width="0.40" stroke-linejoin="round" >Smoothed</text>
<text x="1215.6" y="240.7" font-size="18.80" font-weight="bold" fill="#222222" text-anchor="start" textLength="81.4" lengthAdjust="spacingAndGlyphs" stroke="#222222" stroke-width="0.40" stroke-linejoin="round" >Monthly</text>
<line x1="1050.4" y1="253.6" x2="1374.7" y2="253.6" stroke="#d0d0d0" stroke-width="1.3"/>
<text x="1050.2" y="277.2" font-size="18.80" font-weight="bold" fill="#222222" text-anchor="start" textLength="39.5" lengthAdjust="spacingAndGlyphs" stroke="#222222" stroke-width="0.40" stroke-linejoin="round" >CHF</text>
<line x1="1015.3" y1="288.0" x2="1374.7" y2="288.0" stroke="#c8c8c8" stroke-width="2"/>
<circle cx="1025" cy="308.9" r="10.1" fill="#0399c6"/>
<text x="1050.2" y="314.2" font-size="18.80" font-weight="bold" fill="#222222" text-anchor="start" textLength="164.6" lengthAdjust="spacingAndGlyphs" stroke="#222222" stroke-width="0.40" stroke-linejoin="round" >Scored Holdings</text>
<text x="1050.2" y="332.0" font-size="11.60" font-weight="bold" fill="#8a8e94" text-anchor="start" textLength="128.3" lengthAdjust="spacing" stroke="#8a8e94" stroke-width="0.20" stroke-linejoin="round" >INVESTOR BASE</text>
<text x="1050.2" y="344.7" font-size="11.60" font-weight="bold" fill="#222222" text-anchor="start" textLength="23.9" lengthAdjust="spacingAndGlyphs" stroke="#222222" stroke-width="0.20" stroke-linejoin="round" >ALL</text>
<line x1="1050.4" y1="353.6" x2="1374.7" y2="353.6" stroke="#d0d0d0" stroke-width="1.3"/>
<text x="1050.2" y="374.7" font-size="18.80" font-weight="bold" fill="#222222" text-anchor="start" textLength="25.3" lengthAdjust="spacingAndGlyphs" stroke="#222222" stroke-width="0.40" stroke-linejoin="round" >FX</text>
<text x="1050.2" y="391.6" font-size="11.60" font-weight="bold" fill="#8a8e94" text-anchor="start" textLength="82.5" lengthAdjust="spacing" stroke="#8a8e94" stroke-width="0.20" stroke-linejoin="round" >SUBCLASS</text>
<text x="1050.2" y="404.8" font-size="11.60" font-weight="bold" fill="#222222" text-anchor="start" textLength="127.2" lengthAdjust="spacingAndGlyphs" stroke="#222222" stroke-width="0.20" stroke-linejoin="round" >FORWARD + SWAP</text>
<line x1="1050.4" y1="415.5" x2="1374.7" y2="415.5" stroke="#d0d0d0" stroke-width="1.3"/>
<text x="1050.2" y="436.7" font-size="18.80" font-weight="bold" fill="#222222" text-anchor="start" textLength="102.2" lengthAdjust="spacingAndGlyphs" stroke="#222222" stroke-width="0.40" stroke-linejoin="round" >Smoothed</text>
<text x="1215.6" y="436.7" font-size="18.80" font-weight="bold" fill="#222222" text-anchor="start" textLength="81.4" lengthAdjust="spacingAndGlyphs" stroke="#222222" stroke-width="0.40" stroke-linejoin="round" >Monthly</text>
<line x1="1050.4" y1="449.6" x2="1374.7" y2="449.6" stroke="#d0d0d0" stroke-width="1.3"/>
<text x="1050.2" y="473.2" font-size="18.80" font-weight="bold" fill="#222222" text-anchor="start" textLength="74.0" lengthAdjust="spacingAndGlyphs" stroke="#222222" stroke-width="0.40" stroke-linejoin="round" >Havens</text>
<line x1="1015.3" y1="484.0" x2="1374.7" y2="484.0" stroke="#c8c8c8" stroke-width="2"/>
<text x="1050.2" y="503.0" font-size="11.60" font-weight="bold" fill="#8a8e94" text-anchor="start" textLength="108.2" lengthAdjust="spacing" stroke="#8a8e94" stroke-width="0.20" stroke-linejoin="round" >DATE RANGE:</text>
<text x="1050.2" y="527.8" font-size="20.20" font-weight="normal" fill="#222222" text-anchor="start" textLength="113.0" lengthAdjust="spacingAndGlyphs" >01.03.2022</text>
<line x1="1175.3" y1="520.5" x2="1205" y2="520.5" stroke="#222222" stroke-width="1"/>
<text x="1215.6" y="527.8" font-size="20.20" font-weight="normal" fill="#222222" text-anchor="start" textLength="112.5" lengthAdjust="spacingAndGlyphs" >06.17.2024</text>
<line x1="1015.3" y1="539.2" x2="1374.7" y2="539.2" stroke="#c8c8c8" stroke-width="2"/>
</svg></body></html>
